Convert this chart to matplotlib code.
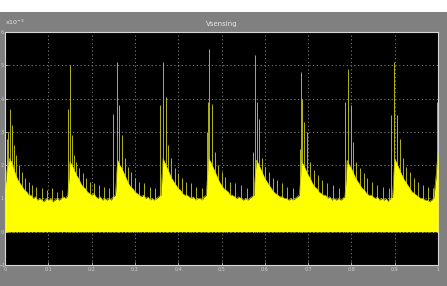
import numpy as np
import matplotlib
matplotlib.use('Agg')
import matplotlib.pyplot as plt

# envelope of the filled signal, sampled every 0.005 s (x1e-3 units)
t_env = np.linspace(0, 1, 201)
env = [1.3, 1.9, 2.2, 2.1, 1.9, 1.7, 1.55, 1.45, 1.35, 1.25, 1.2, 1.1, 1.1, 1.0, 1.05,
       0.95, 1.0, 0.95, 0.9, 1.0, 0.95, 1.0, 0.9, 0.95, 1.0, 0.95, 1.0, 1.05, 1.0, 1.1,
       2.1, 2.0, 1.85, 1.7, 1.6, 1.45, 1.35, 1.3, 1.2, 1.15, 1.1, 1.15, 1.05, 1.0, 1.05,
       0.95, 1.0, 0.95, 1.0, 0.95, 1.05, 1.1,
       2.15, 2.0, 1.9, 1.75, 1.6, 1.45, 1.35, 1.3, 1.2, 1.15, 1.1, 1.05, 1.1, 1.0, 1.05,
       0.95, 1.0, 0.95, 1.0, 1.05, 1.1,
       2.2, 2.05, 1.9, 1.75, 1.6, 1.5, 1.4, 1.3, 1.25, 1.15, 1.1, 1.1, 1.05, 1.0, 1.05,
       0.95, 1.0, 1.0, 0.95, 1.05, 1.1,
       2.2, 2.1, 1.95, 1.8, 1.65, 1.5, 1.4, 1.3, 1.25, 1.2, 1.1, 1.1, 1.05, 1.0, 1.05,
       1.0, 0.95, 1.0, 0.95, 1.0, 1.05, 1.1,
       2.15, 2.05, 1.9, 1.75, 1.6, 1.5, 1.4, 1.3, 1.2, 1.15, 1.1, 1.05, 1.05, 1.0, 1.0,
       0.95, 1.0, 0.95, 1.0, 1.05, 1.1,
       2.1, 2.0, 1.85, 1.7, 1.6, 1.45, 1.35, 1.3, 1.2, 1.15, 1.1, 1.1, 1.0, 1.05, 0.95,
       1.0, 0.95, 1.0, 0.95, 1.0, 1.05,
       2.15, 2.0, 1.9, 1.75, 1.6, 1.5, 1.4, 1.3, 1.25, 1.15, 1.1, 1.1, 1.05, 1.0, 1.05,
       0.95, 1.0, 0.95, 1.0, 0.9, 1.0, 1.05,
       2.2, 2.05, 1.9, 1.75, 1.6, 1.5, 1.4, 1.3, 1.2, 1.15, 1.1, 1.05, 1.0, 1.0, 0.95,
       0.95, 0.9, 0.95, 1.0,
       1.6, 2.4]

# thin spikes on top of the envelope (time, height)
spike_t = [0.004, 0.008, 0.012, 0.016, 0.020, 0.026, 0.032, 0.040, 0.047, 0.055, 0.063, 0.072, 0.085, 0.097, 0.108, 0.120, 0.132,
           0.145, 0.150, 0.155, 0.159, 0.165, 0.172, 0.180, 0.188, 0.197, 0.206, 0.216, 0.228, 0.240,
           0.250, 0.259, 0.263, 0.270, 0.276, 0.283, 0.291, 0.300, 0.310, 0.322, 0.334, 0.347,
           0.358, 0.365, 0.372, 0.377, 0.384, 0.392, 0.400, 0.409, 0.419, 0.430, 0.442, 0.455,
           0.466, 0.469, 0.471, 0.478, 0.485, 0.492, 0.500, 0.509, 0.520, 0.532, 0.545, 0.560,
           0.573, 0.577, 0.582, 0.587, 0.594, 0.601, 0.609, 0.618, 0.628, 0.640, 0.652, 0.666,
           0.681, 0.684, 0.686, 0.690, 0.698, 0.705, 0.713, 0.722, 0.732, 0.744, 0.757, 0.771,
           0.785, 0.792, 0.799, 0.804, 0.811, 0.819, 0.828, 0.837, 0.848, 0.860, 0.873, 0.886,
           0.891, 0.898, 0.905, 0.912, 0.919, 0.927, 0.935, 0.944, 0.954, 0.965, 0.977, 0.988,
           0.997, 1.0]
spike_h = [2.8, 3.0, 3.7, 3.2, 2.6, 2.3, 2.0, 1.8, 1.6, 1.5, 1.4, 1.35, 1.3, 1.25, 1.3, 1.2, 1.25,
           3.7, 5.0, 2.9, 2.3, 2.1, 1.9, 1.75, 1.6, 1.5, 1.45, 1.4, 1.35, 1.3,
           3.55, 5.1, 3.8, 2.9, 2.2, 1.95, 1.8, 1.6, 1.5, 1.45, 1.35, 1.3,
           3.8, 5.1, 4.05, 2.6, 2.2, 1.9, 1.75, 1.6, 1.5, 1.45, 1.35, 1.3,
           3.0, 3.9, 5.5, 3.85, 2.4, 2.0, 1.8, 1.65, 1.5, 1.45, 1.4, 1.3,
           2.4, 5.3, 3.9, 3.4, 2.2, 1.95, 1.8, 1.6, 1.55, 1.45, 1.35, 1.3,
           2.5, 4.8, 4.0, 3.3, 3.0, 2.1, 1.85, 1.7, 1.55, 1.45, 1.4, 1.3,
           3.9, 4.9, 3.8, 2.7, 2.1, 1.9, 1.75, 1.6, 1.5, 1.4, 1.35, 1.3,
           3.5, 5.1, 3.5, 2.8, 2.2, 1.95, 1.8, 1.6, 1.5, 1.4, 1.35, 1.3,
           3.9, 3.0]

xticks = np.arange(0, 1.01, 0.1)
xlabels = ['0', '0.1', '0.2', '0.3', '0.4', '0.5', '0.6', '0.7', '0.8', '0.9', '1']
yticks = [-1, 0, 1, 2, 3, 4, 5, 6]

fig = plt.figure(figsize=(4.47, 2.86), dpi=100, facecolor='#808080')
# white strip at the very top
fig.patches.append(plt.Rectangle((0, 0.958), 1, 0.042, transform=fig.transFigure,
                                 facecolor='white', edgecolor='none', zorder=-1))
ax = fig.add_axes([0.0112, 0.0734, 0.9687, 0.8147])
ax.set_facecolor('black')
ax.set_axisbelow(True)

# spikes first, the solid fill then hides their lower part
ax.vlines(spike_t, 0, spike_h, color='#b4b418', lw=0.7, zorder=2)
ax.fill_between(t_env, 0, env, color='#ffff00', lw=0, zorder=3)
ax.plot(t_env, env, color='#d4d400', lw=0.4, zorder=3)

ax.set_xlim(0, 1)
ax.set_ylim(-1, 6)
ax.set_xticks(xticks)
ax.set_xticklabels(xlabels)
ax.set_yticks(yticks)
ax.grid(True, color='#8a8a8a', linestyle=(0, (1.5, 3)), lw=0.6)
ax.tick_params(direction='in', length=2, width=0.5, colors='#d0d0d0',
               labelsize=3.5, pad=1.5)
for lab in ax.get_yticklabels():
    lab.set_horizontalalignment('center')
ax.tick_params(axis='y', pad=2)
for s in ax.spines.values():
    s.set_color('#d8d8d8')
    s.set_linewidth(0.8)

ax.set_title('Vsensing', color='#e8e8e8', fontsize=5, pad=4)
fig.text(0.012, 0.905, 'x10$^{-3}$', color='#e8e8e8', fontsize=4.5, va='bottom')

fig.savefig('out.png', dpi=100, facecolor=fig.get_facecolor())
